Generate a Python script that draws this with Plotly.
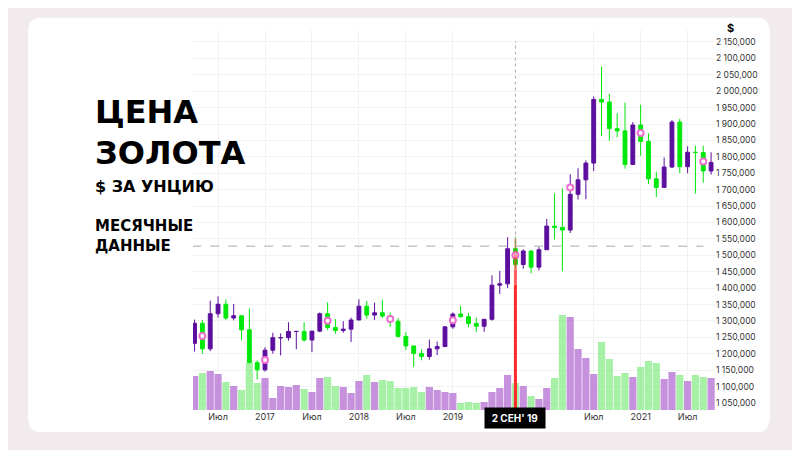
import plotly.graph_objects as go

# month index: Jan 2017 = 0 ; data Apr 2016 .. Nov 2021
months = list(range(-9, 59))
opens = [1232,1293,1215,1322,1351,1309,1316,1273,1173,
         1151,1211,1249,1249,1268,1268,1242,1269,1322,1280,1271,1275,
         1303,1345,1318,1325,1315,1299,1253,1224,1201,1192,1215,1222,
         1282,1321,1313,1292,1284,1305,1409,1413,1520,1472,1513,1464,
         1517,1589,1585,1577,1686,1730,1781,1975,1967,1886,1879,1777,
         1897,1847,1733,1707,1769,1906,1770,1814,1813,1757,1783]
highs = [1304,1303,1362,1375,1366,1352,1317,1338,1180,
         1220,1264,1262,1296,1270,1296,1270,1326,1357,1306,1299,1310,
         1366,1361,1356,1365,1326,1309,1266,1224,1214,1243,1237,1284,
         1326,1346,1324,1310,1306,1439,1453,1555,1557,1518,1516,1525,
         1611,1689,1704,1747,1765,1789,1984,2075,1992,1933,1965,1906,
         1959,1872,1755,1798,1912,1916,1832,1834,1834,1814,1781]
lows = [1207,1200,1208,1310,1303,1302,1241,1171,1122,
        1146,1200,1195,1240,1214,1237,1205,1266,1272,1261,1264,1236,
        1302,1307,1303,1309,1282,1250,1211,1160,1180,1182,1196,1221,
        1276,1311,1281,1266,1267,1301,1382,1400,1459,1459,1445,1454,
        1517,1548,1451,1568,1670,1671,1757,1863,1849,1860,1764,1775,
        1803,1717,1677,1707,1766,1750,1750,1688,1721,1746,1774]
closes = [1293,1215,1322,1351,1309,1316,1273,1173,1151,
          1211,1249,1249,1268,1268,1242,1269,1322,1280,1271,1275,1303,
          1345,1318,1325,1315,1299,1253,1224,1201,1192,1215,1222,1282,
          1321,1313,1292,1284,1305,1409,1413,1520,1472,1513,1464,1517,
          1589,1585,1577,1686,1730,1781,1975,1967,1886,1879,1777,1897,
          1847,1733,1707,1769,1906,1770,1814,1813,1757,1783,1778]
volumes = [34,37,39,36,28,24,20,47,27,
           32,12,24,23,25,21,18,32,33,24,23,17,
           29,35,28,30,29,22,22,23,18,23,20,18,
           17,7,8,7,8,18,22,35,27,24,14,11,
           22,32,95,93,61,52,36,68,51,34,37,33,
           43,49,47,31,38,35,29,35,33,32,38]
marker_months = [-8, 0, 8, 16, 24, 32, 39, 48, 56]
marker_prices = [1254, 1181, 1301, 1306, 1302, 1500, 1707, 1873, 1786]

tick_months = [-6, 0, 6, 12, 18, 24, 42, 48, 54]
tick_labels = ["Июл", "2017", "Июл", "2018", "Июл", "2019", "Июл", "2021", "Июл"]
price_ticks = list(range(1050, 2151, 50))
price_labels = [f"{p//1000} {p%1000:03d},000" for p in price_ticks]

PURPLE = "#5c0f9e"
GREEN = "#00e80a"
vol_colors = ["rgba(180,110,210,0.75)" if c >= o else "rgba(130,235,130,0.7)"
              for o, c in zip(opens, closes)]

fig = go.Figure()
fig.add_trace(go.Bar(x=months, y=volumes, marker_color=vol_colors,
                     marker_line_width=0, yaxis="y2", showlegend=False))
fig.add_trace(go.Candlestick(x=months, open=opens, high=highs, low=lows, close=closes,
                             increasing=dict(line=dict(color=PURPLE, width=1), fillcolor=PURPLE),
                             decreasing=dict(line=dict(color=GREEN, width=1), fillcolor=GREEN),
                             whiskerwidth=0, showlegend=False))
fig.add_trace(go.Scatter(x=marker_months, y=marker_prices, mode="markers",
                         marker=dict(size=6, color="white", line=dict(color="#ee6fcf", width=2)),
                         showlegend=False))

L, R, B, T = -0.316, 1.105, -0.058, 1.032
shapes = [
    dict(type="path", xref="paper", yref="paper",
         path=f"M {L} {T-0.04} L {L} {B+0.04} Q {L} {B} {L+0.023} {B} L {R-0.023} {B} Q {R} {B} {R} {B+0.04} L {R} {T-0.04} Q {R} {T} {R-0.023} {T} L {L+0.023} {T} Q {L} {T} {L} {T-0.04} Z",
         fillcolor="white", line_width=0, layer="below"),
    dict(type="line", xref="x", yref="y", x0=-9.3, x1=56, y0=1528, y1=1528,
         line=dict(color="#aaaaaa", width=1, dash="dash")),
    dict(type="line", xref="x", yref="paper", x0=32, x1=32, y0=0.43, y1=0.97,
         line=dict(color="#aaaaaa", width=1, dash="dot")),
]
segs = [(0.0, 0.33, 1.0), (0.33, 0.37, 0.75), (0.37, 0.41, 0.5), (0.41, 0.45, 0.25)]
for a, b, op in segs:
    shapes.append(dict(type="line", xref="x", yref="paper", x0=32, x1=32, y0=a, y1=b,
                       line=dict(color=f"rgba(255,40,40,{op})", width=3)))

TF = "DejaVu Sans"
def title(txt, ypx, size):
    return dict(x=-0.1916, y=(410 - ypx) / 380, xref="paper", yref="paper",
                xanchor="left", yanchor="middle",
                text=f"<b>{txt}</b>", showarrow=False,
                font=dict(size=size, color="#000", family=TF))

fig.update_layout(
    width=800, height=450,
    margin=dict(l=185, r=93, t=22, b=48),
    paper_bgcolor="#f1ebee", plot_bgcolor="rgba(0,0,0,0)",
    bargap=0.08,
    shapes=shapes,
    font=dict(family="Inter, Roboto, sans-serif", color="#222"),
    xaxis=dict(range=[-9.2, 57.5], tickvals=tick_months, ticktext=tick_labels,
               showgrid=True, gridcolor="#f2f2f2", zeroline=False,
               rangeslider=dict(visible=False), tickfont=dict(size=9, color="#333"),
               ticks="", showline=False),
    yaxis=dict(range=[1028.7, 2186.5], side="right", tickvals=price_ticks,
               ticktext=price_labels, showgrid=True, gridcolor="#f2f2f2",
               zeroline=False, automargin=False, tickfont=dict(size=8.5, color="#333")),
    yaxis2=dict(range=[0, 380], overlaying="y", visible=False),
    annotations=[
        title("ЦЕНА", 112, 32),
        title("ЗОЛОТА", 153, 32),
        title("$ ЗА УНЦИЮ", 186, 16),
        title("МЕСЯЧНЫЕ", 226, 15),
        title("ДАННЫЕ", 246, 15),
        dict(x=1.04, y=1.03, xref="paper", yref="paper", showarrow=False,
             text="<b>$</b>", font=dict(size=11, color="#000")),
        dict(x=32, y=-0.021, xref="x", yref="paper", yanchor="middle", showarrow=False,
             text="<b>2 СЕН' 19</b>", font=dict(size=10, color="white"),
             bgcolor="#000", borderpad=4, width=52),
    ],
)
fig.write_html("out.html")
